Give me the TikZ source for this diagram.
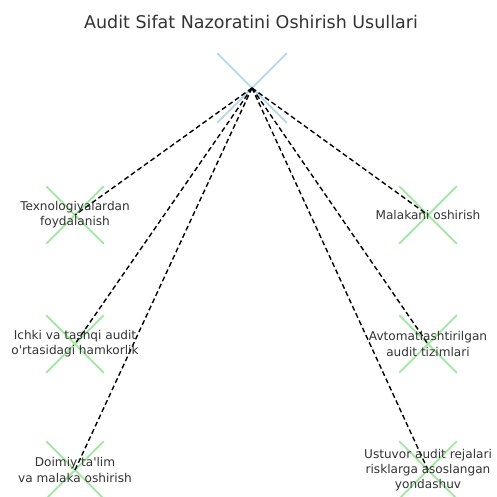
\documentclass[tikz,border=0pt]{standalone}
\usepackage{fontspec}
\setmainfont{DejaVu Sans}
\usetikzlibrary{shapes.misc}
\definecolor{txtgray}{HTML}{333333}
\definecolor{hubblue}{HTML}{ADD8E6}
\definecolor{markgreen}{HTML}{90EE90}
\tikzset{
	marker/.style={cross out, draw=markgreen, line width=1.5pt, minimum size=56pt, inner sep=0pt},
	hubmark/.style={cross out, draw=hubblue, line width=1.5pt, minimum size=68pt, inner sep=0pt},
	link/.style={dashed, dash pattern=on 5pt off 3pt, line width=1.4pt, black},
	lbl/.style={align=center, text=txtgray, font=\fontsize{12.1}{15.2}\selectfont, inner sep=0pt}
}
\begin{document}
\begin{tikzpicture}[x=1pt, y=-1pt]
			\useasboundingbox[fill=white] (0,0) rectangle (497,497);
			\node[lbl, font=\fontsize{17.5}{20}\selectfont] (title) at (251,22) {Audit Sifat Nazoratini Oshirish Usullari};
			\node[hubmark] (hub) at (252,88) {};
			\node[marker] (m1) at (75,215) {};
			\node[marker] (m2) at (75,344) {};
			\node[marker] (m3) at (75,470) {};
			\node[marker] (m4) at (428,215) {};
			\node[marker] (m5) at (428,344) {};
			\node[marker] (m6) at (428,470) {};
			%links
			\foreach \m in {m1,m2,m3,m4,m5,m6}
				\draw[link] (hub.center) -- (\m.center);
			\node[lbl] (t1) at (m1) {Texnologiyalardan\\foydalanish};
			\node[lbl] (t2) at (m2) {Ichki va tashqi audit\\o\textquotesingle rtasidagi hamkorlik};
			\node[lbl] (t3) at (m3) {Doimiy ta\textquotesingle lim\\va malaka oshirish};
			\node[lbl] (t4) at (m4) {Malakani oshirish};
			\node[lbl] (t5) at (m5) {Avtomatlashtirilgan\\audit tizimlari};
			\node[lbl] (t6) at (m6) {Ustuvor audit rejalari\\risklarga asoslangan\\yondashuv};
		\end{tikzpicture}
\end{document}
